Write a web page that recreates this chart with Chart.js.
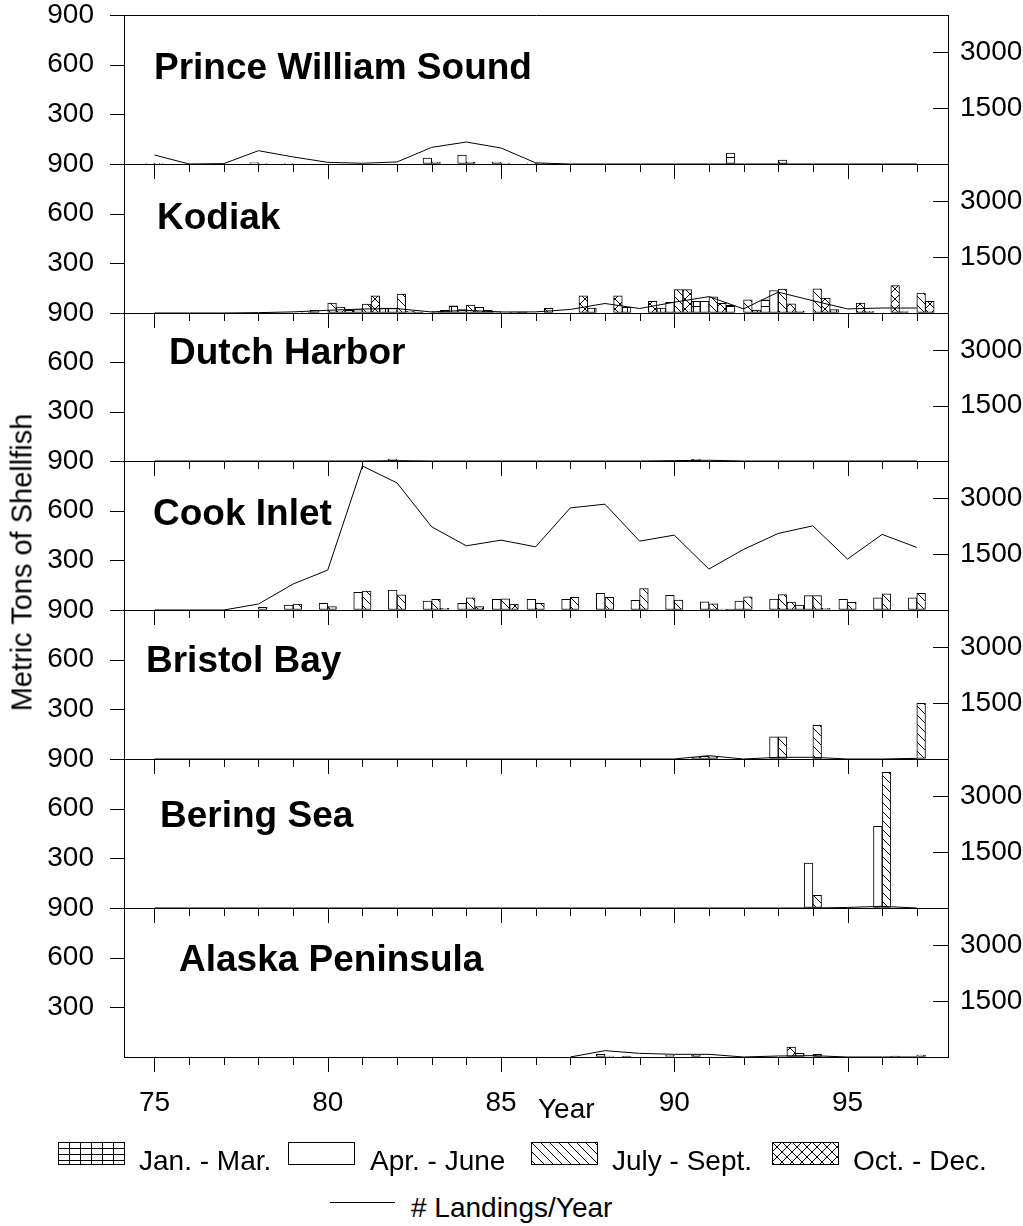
<!DOCTYPE html>
<html>
<head>
<meta charset="utf-8">
<title>Shellfish landings by area</title>
<script src="https://cdn.jsdelivr.net/npm/chart.js@4.4.1/dist/chart.umd.min.js"></script>
<style>
  body { margin: 0; background: #fff; }
  #wrap { position: relative; width: 1023px; height: 1226px; overflow: hidden; background: #fff;
          font-family: "Liberation Sans", Arial, sans-serif; color: #000; }
  #wrap canvas { position: absolute; left: 0; }
  .area { position: absolute; font-size: 37px; line-height: 37px; font-weight: bold; white-space: nowrap; }
  .txt { position: absolute; font-size: 28px; line-height: 28px; white-space: nowrap; }
  #ytitle { left: -143px; top: 548px; width: 330px; font-size: 29px; line-height: 29px; text-align: center; transform: rotate(-90deg); }
  .lineSwatch { position: absolute; left: 330px; top: 1202px; width: 65px; height: 0; border-top: 1px solid #000; }
</style>
</head>
<body>
<div id="wrap"></div>
<script>
// years 1975..1997, written as two digits like the axis
const YEARS = [75, 76, 77, 78, 79, 80, 81, 82, 83, 84, 85, 86, 87, 88, 89, 90, 91, 92, 93, 94, 95, 96, 97];
const X_LABELS = [75, 80, 85, 90, 95];
const TONS_TICKS = [0, 300, 600, 900];
const LANDING_TICKS = [1500, 3000];
const QUARTERS = ['Jan. - Mar.', 'Apr. - June', 'July - Sept.', 'Oct. - Dec.'];

// metric tons per quarter, one value per year
const PWS_JAN_MAR = [0,0,0,0,0,0,0,0,0,0,0,0,0,0,0,0,0,66,0,0,0,0,0];
const PWS_APR_JUN = [2,0,0,8,4,0,0,0,36,54,12,4,0,0,0,0,0,0,0,0,0,0,0];
const PWS_JUL_SEP = [4,0,0,2,0,0,0,0,12,12,6,6,0,0,0,0,0,0,24,0,0,0,0];
const PWS_OCT_DEC = [0,0,0,0,0,0,0,0,0,0,0,0,0,0,0,0,0,0,0,0,0,0,0];
const PWS_LANDINGS = [241,0,10,357,190,45,20,55,447,590,430,30,0,0,0,0,0,0,0,0,0,0,0];

const KOD_JAN_MAR = [0,0,0,0,0,16,16,30,6,44,16,6,0,30,34,30,70,46,80,12,20,10,8];
const KOD_APR_JUN = [0,0,0,0,0,0,20,30,0,20,8,0,0,0,0,65,70,0,136,0,0,0,0];
const KOD_JUL_SEP = [0,0,0,0,0,60,54,114,10,48,0,0,0,0,0,141,98,80,145,146,0,0,121];
const KOD_OCT_DEC = [0,0,0,0,5,36,104,10,16,34,6,28,104,104,70,141,58,18,55,90,60,165,70];
const KOD_LANDINGS = [0,0,0,10,30,72,107,118,27,72,27,30,95,255,120,290,440,110,560,330,110,134,134];

const DUT_JAN_MAR = [0,0,0,0,0,0,0,0,0,0,0,0,0,0,0,0,10,0,0,0,0,0,0];
const DUT_APR_JUN = [0,0,0,0,0,0,0,12,0,0,0,0,0,0,0,0,0,0,0,0,0,0,0];
const DUT_JUL_SEP = [0,0,0,0,0,0,0,0,0,0,0,0,0,0,0,0,0,0,0,0,0,0,0];
const DUT_OCT_DEC = [0,0,0,0,0,0,0,0,0,0,0,0,0,0,0,0,0,0,0,0,0,0,0];
const DUT_LANDINGS = [0,0,0,0,0,0,0,10,0,0,0,0,0,0,0,10,20,0,0,0,0,0,0];

const COOK_JAN_MAR = [0,0,0,0,0,0,0,0,0,0,0,0,0,0,0,0,0,6,0,30,0,0,0];
const COOK_APR_JUN = [0,0,0,0,30,40,107,121,54,40,64,64,64,101,58,89,50,54,66,87,64,74,74];
const COOK_JUL_SEP = [0,0,0,16,36,20,115,91,64,74,68,40,76,76,129,60,38,80,93,87,46,97,101];
const COOK_OCT_DEC = [0,0,0,0,0,0,0,0,10,20,36,0,0,0,0,0,6,0,48,10,0,0,0];
const COOK_LANDINGS = [0,0,0,161,697,1072,3866,3411,2232,1723,1875,1697,2742,2841,1849,2010,1099,1627,2055,2259,1367,2029,1680];

const BRB_JAN_MAR = [0,0,0,0,0,0,0,0,0,0,0,0,0,0,0,0,10,0,0,0,0,0,0];
const BRB_APR_JUN = [0,0,0,0,0,0,0,0,0,0,0,0,0,0,0,0,16,0,134,0,0,0,0];
const BRB_JUL_SEP = [0,0,0,0,0,0,0,0,0,0,0,0,0,0,0,0,12,0,134,204,0,0,337];
const BRB_OCT_DEC = [0,0,0,0,0,0,0,0,0,0,0,0,0,0,0,0,0,0,0,0,0,0,0];
const BRB_LANDINGS = [0,0,0,0,0,0,0,0,0,0,0,0,0,0,0,0,90,0,45,45,0,0,18];

const BER_JAN_MAR = [0,0,0,0,0,0,0,0,0,0,0,0,0,0,0,0,0,0,0,0,0,0,0];
const BER_APR_JUN = [0,0,0,0,0,0,0,0,0,0,0,0,0,0,0,0,0,0,0,272,0,493,0];
const BER_JUL_SEP = [0,0,0,0,0,0,0,0,0,0,0,0,0,0,0,0,0,0,0,77,0,820,0];
const BER_OCT_DEC = [0,0,0,0,0,0,0,0,0,0,0,0,0,0,0,0,0,0,0,0,0,0,0];
const BER_LANDINGS = [0,0,0,0,0,0,0,0,0,0,0,0,0,0,0,0,0,0,0,0,15,45,0];

const AKP_JAN_MAR = [0,0,0,0,0,0,0,0,0,0,0,0,0,0,6,0,12,0,0,22,0,0,0];
const AKP_APR_JUN = [0,0,0,0,0,0,0,0,0,0,0,0,0,16,0,10,0,0,0,0,0,0,0];
const AKP_JUL_SEP = [0,0,0,0,0,0,0,0,0,0,0,0,0,6,0,0,0,0,0,16,0,0,12];
const AKP_OCT_DEC = [0,0,0,0,0,0,0,0,0,0,0,0,0,0,0,0,0,0,60,0,0,6,0];
const AKP_LANDINGS = [null,null,null,null,null,null,null,null,null,null,null,null,0,170,98,72,72,0,27,36,0,0,0];

const AREAS = [
  { name: 'Prince William Sound', tons: [PWS_JAN_MAR, PWS_APR_JUN, PWS_JUL_SEP, PWS_OCT_DEC], landings: PWS_LANDINGS },
  { name: 'Kodiak', tons: [KOD_JAN_MAR, KOD_APR_JUN, KOD_JUL_SEP, KOD_OCT_DEC], landings: KOD_LANDINGS },
  { name: 'Dutch Harbor', tons: [DUT_JAN_MAR, DUT_APR_JUN, DUT_JUL_SEP, DUT_OCT_DEC], landings: DUT_LANDINGS },
  { name: 'Cook Inlet', tons: [COOK_JAN_MAR, COOK_APR_JUN, COOK_JUL_SEP, COOK_OCT_DEC], landings: COOK_LANDINGS },
  { name: 'Bristol Bay', tons: [BRB_JAN_MAR, BRB_APR_JUN, BRB_JUL_SEP, BRB_OCT_DEC], landings: BRB_LANDINGS },
  { name: 'Bering Sea', tons: [BER_JAN_MAR, BER_APR_JUN, BER_JUL_SEP, BER_OCT_DEC], landings: BER_LANDINGS },
  { name: 'Alaska Peninsula', tons: [AKP_JAN_MAR, AKP_APR_JUN, AKP_JUL_SEP, AKP_OCT_DEC], landings: AKP_LANDINGS }
];

// layout
const PANEL_TOP = [15, 164, 313, 461, 610, 759, 908];
const PLOT_BOTTOM = 1057;
const TITLE_POS = [[154, 48], [157, 198], [169, 333], [153, 494], [146, 641], [160, 796], [179, 940]];
const QUARTER_SHIFT = [-0.375, -0.125, 0.125, 0.375];
const X_MIN = 74.12, X_MAX = 97.9;
const FONT = { family: '"Liberation Sans", Arial, sans-serif', size: 28 };
const CLEAR = 'rgba(0,0,0,0)';

Chart.defaults.font.family = FONT.family;
Chart.defaults.color = '#000';

// hatch fills
function makePattern(kind) {
  if (kind === 'empty') return '#fff';
  var tile = document.createElement('canvas');
  var w = kind === 'grid' ? 11 : (kind === 'diag' ? 9 : 10);
  var h = kind === 'grid' ? 6 : w;
  tile.width = w; tile.height = h;
  var g = tile.getContext('2d');
  g.fillStyle = '#fff';
  g.fillRect(0, 0, w, h);
  g.fillStyle = '#000';
  g.strokeStyle = '#000';
  g.lineWidth = 1;
  if (kind === 'grid') {
    g.fillRect(0, 0, w, 1);
    g.fillRect(0, 0, 1, h);
  } else {
    g.beginPath();
    [-w, 0, w].forEach(function (o) {
      g.moveTo(o, 0); g.lineTo(o + w, w);
      if (kind === 'cross') { g.moveTo(o + w, 0); g.lineTo(o, w); }
    });
    g.stroke();
  }
  return g.createPattern(tile, 'repeat');
}
const FILLS = ['grid', 'empty', 'diag', 'cross'].map(makePattern);

// tick marks: out on the left, in on the right, down below each panel
const tickMarks = {
  id: 'tickMarks',
  afterDraw: function (chart) {
    var ctx = chart.ctx, a = chart.chartArea, s = chart.scales;
    ctx.save();
    ctx.strokeStyle = '#000';
    ctx.lineWidth = 1;
    ctx.beginPath();
    [300, 600, 900].forEach(function (v) {
      var py = Math.round(s.y.getPixelForValue(v)) + 0.5;
      ctx.moveTo(a.left - 14, py); ctx.lineTo(a.left, py);
    });
    LANDING_TICKS.forEach(function (v) {
      var py = Math.round(s.y2.getPixelForValue(v)) + 0.5;
      ctx.moveTo(a.right - 15, py); ctx.lineTo(a.right, py);
    });
    YEARS.forEach(function (yr) {
      var px = Math.round(s.x.getPixelForValue(yr)) + 0.5;
      ctx.moveTo(px, a.bottom); ctx.lineTo(px, a.bottom + (yr % 5 === 0 ? 15 : 8));
    });
    ctx.stroke();
    ctx.restore();
  }
};

var wrap = document.getElementById('wrap');

AREAS.forEach(function (area, i) {
  var last = i === AREAS.length - 1;
  var top = PANEL_TOP[i];
  var h = (last ? PLOT_BOTTOM : PANEL_TOP[i + 1]) - top;
  var xAxisH = last ? 100 : 20;
  var cv = document.createElement('canvas');
  cv.width = 1023;
  cv.height = 20 + h + xAxisH;
  cv.style.top = (top - 20) + 'px';
  cv.style.width = '1023px';
  cv.style.height = cv.height + 'px';
  wrap.appendChild(cv);

  var datasets = [{
    type: 'line',
    label: '# Landings/Year',
    data: YEARS.map(function (yr, k) { return { x: yr, y: area.landings[k] }; }),
    yAxisID: 'y2',
    borderColor: '#000',
    borderWidth: 1,
    pointRadius: 0,
    tension: 0,
    fill: false
  }];
  area.tons.forEach(function (vals, q) {
    datasets.push({
      type: 'bar',
      label: QUARTERS[q],
      data: YEARS.map(function (yr, k) { return { x: yr + QUARTER_SHIFT[q], y: vals[k] > 0 ? vals[k] : null }; }),
      yAxisID: 'y',
      backgroundColor: FILLS[q],
      borderColor: '#000',
      borderWidth: 1,
      borderSkipped: false,
      grouped: false,
      barPercentage: 1,
      categoryPercentage: 1
    });
  });

  new Chart(cv, {
    type: 'bar',
    data: { datasets: datasets },
    options: {
      responsive: false,
      animation: false,
      devicePixelRatio: 1,
      layout: { padding: { top: 20, left: 0, right: 0, bottom: 0 } },
      plugins: { legend: { display: false }, tooltip: { enabled: false } },
      scales: {
        x: {
          type: 'linear', position: 'bottom', min: X_MIN, max: X_MAX, offset: false,
          afterBuildTicks: function (sc) { sc.ticks = X_LABELS.map(function (v) { return { value: v }; }); },
          afterFit: function (sc) { sc.height = xAxisH; },
          grid: { display: false, drawTicks: false, offset: false },
          border: { display: true, color: '#000', width: 1 },
          ticks: { display: last, padding: 29, font: FONT, color: '#000', maxRotation: 0,
                   callback: function (v) { return String(v); } }
        },
        y: {
          position: 'left', min: 0, max: 900,
          afterBuildTicks: function (sc) { sc.ticks = TONS_TICKS.map(function (v) { return { value: v }; }); },
          afterFit: function (sc) { sc.width = 124; },
          // labels sit 30px off the axis: a clear tick carries that gap
          grid: { drawTicks: true, tickLength: 30, tickColor: CLEAR,
                  color: function (c) { return c.tick && c.tick.value === 900 ? '#000' : CLEAR; } },
          border: { display: true, color: '#000', width: 1 },
          ticks: { padding: 0, font: FONT, color: '#000',
                   callback: function (v) { return v === 0 ? '' : String(v); } }
        },
        y2: {
          position: 'right', min: 0, max: 4000,
          afterBuildTicks: function (sc) { sc.ticks = LANDING_TICKS.map(function (v) { return { value: v }; }); },
          afterFit: function (sc) { sc.width = 75; },
          grid: { display: true, drawOnChartArea: false, drawTicks: true, tickLength: 12,
                  color: CLEAR, tickColor: CLEAR },
          border: { display: true, color: '#000', width: 1 },
          ticks: { padding: 0, font: FONT, color: '#000', callback: function (v) { return String(v); } }
        }
      }
    },
    plugins: [tickMarks]
  });

  var t = document.createElement('div');
  t.className = 'area';
  t.textContent = area.name;
  t.style.left = TITLE_POS[i][0] + 'px';
  t.style.top = TITLE_POS[i][1] + 'px';
  wrap.appendChild(t);
});

function addText(str, left, top, id) {
  var d = document.createElement('div');
  d.className = 'txt';
  if (id) d.id = id;
  d.textContent = str;
  if (left !== null) d.style.left = left + 'px';
  if (top !== null) d.style.top = top + 'px';
  wrap.appendChild(d);
  return d;
}

addText('Metric Tons of Shellfish', null, null, 'ytitle');
addText('Year', 538, 1095);

// legend
var SWATCH_X = [58, 288, 531, 772];
var LABEL_X = [139, 370, 612, 853];
QUARTERS.forEach(function (name, q) {
  var sw = document.createElement('canvas');
  sw.width = 67; sw.height = 23;
  sw.style.left = SWATCH_X[q] + 'px';
  sw.style.top = '1142px';
  var g = sw.getContext('2d');
  g.fillStyle = FILLS[q];
  g.fillRect(0, 0, 67, 23);
  g.strokeStyle = '#000';
  g.lineWidth = 1;
  g.strokeRect(0.5, 0.5, 66, 22);
  wrap.appendChild(sw);
  addText(name, LABEL_X[q], 1147);
});
var ln = document.createElement('div');
ln.className = 'lineSwatch';
wrap.appendChild(ln);
addText('# Landings/Year', 411, 1194);
</script>
</body>
</html>
